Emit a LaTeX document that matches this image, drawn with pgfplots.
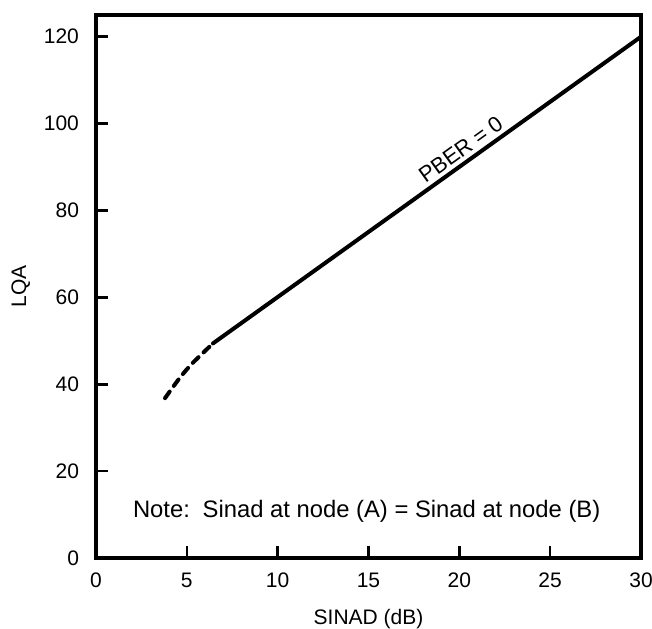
\documentclass[border=0pt]{standalone}
\usepackage{fontspec}
\setmainfont{Liberation Sans}
\usepackage{pgfplots}
\pgfplotsset{compat=1.18}

\begin{document}
\begin{tikzpicture}[font=\fontsize{10.5}{12}\selectfont]
\begin{axis}[
    name=ax,
    scale only axis,
    width=272.5pt, height=271.5pt,
    xmin=0, xmax=30,
    ymin=0, ymax=125,
    xtick={0,5,10,15,20,25,30},
    ytick={0,20,40,60,80,100,120},
    tick pos=left,
    tick align=inside,
    major tick length=6pt,
    axis line style={line width=1.8pt},
    every tick/.style={line width=1.3pt, black},
    xticklabel style={yshift=-4pt},
    yticklabel style={xshift=-5pt},
    /pgf/number format/assume math mode=true,
    xlabel={SINAD (dB)},
    ylabel={LQA},
    xlabel style={yshift=-4pt},
    ylabel style={yshift=0pt},
    clip=false,
]

% --- dashed start ---
\addplot[line width=2pt, smooth, dash pattern=on 4pt off 3.5pt, line cap=round]
coordinates {
    (3.8, 36.8)
    (4.6, 41.4)
    (5.3, 44.8)
    (6.44, 49.4)
};

% --- PBER = 0 line ---
\addplot[line width=2pt, line cap=round] coordinates {
    (6.44, 49.4)
    (30, 120)
};

\node[rotate=35.7, anchor=south, inner sep=2.5pt, font=\fontsize{11}{12}\selectfont]
    at (axis cs:20.5, 91.6) {PBER = 0};

\node[anchor=center, font=\fontsize{11.9}{13}\selectfont]
    at (axis cs:14.9, 10.8) {Note:\, Sinad at node (A) = Sinad at node (B)};

\end{axis}

\pgfresetboundingbox
\path[use as bounding box] ([xshift=-48pt, yshift=-35.5pt]ax.south west)
    rectangle ([xshift=5.5pt, yshift=7.5pt]ax.north east);
\end{tikzpicture}
\end{document}
